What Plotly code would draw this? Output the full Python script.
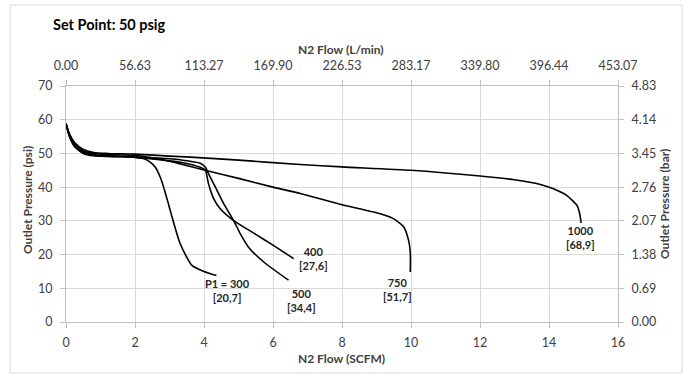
import plotly.graph_objects as go

# ---------------- data (SCFM, psig) ----------------
p300_x = [0, 0.1, 0.25, 0.5, 0.8, 1.2, 1.6, 2.0, 2.3, 2.44, 2.59, 2.73, 2.83, 2.94, 3.05, 3.31, 3.65, 4.0, 4.36]
p300_y = [58.8, 55.0, 52.0, 50.0, 49.3, 49.1, 49.0, 48.8, 48.3, 47.4, 45.9, 43.0, 40.0, 36.1, 32.0, 23.2, 16.8, 15.0, 13.8]

p400_x = [0, 0.1, 0.25, 0.5, 0.8, 1.2, 2.0, 3.0, 3.31, 3.89, 4.04, 4.13, 4.28, 4.47, 4.86, 5.5, 6.0, 6.6]
p400_y = [58.8, 55.3, 52.3, 50.4, 49.6, 49.3, 48.9, 47.8, 47.4, 45.9, 45.0, 41.0, 36.6, 33.6, 30.1, 26.0, 22.8, 18.8]

p500_x = [0, 0.1, 0.25, 0.5, 0.8, 1.2, 2.0, 3.0, 3.31, 3.89, 4.04, 4.13, 4.33, 4.57, 4.86, 5.05, 5.29, 5.73, 6.45]
p500_y = [58.8, 55.1, 52.1, 50.2, 49.5, 49.2, 49.0, 48.4, 48.1, 47.1, 45.9, 44.0, 40.0, 35.1, 30.1, 26.2, 22.2, 17.8, 12.4]

p750_x = [0, 0.1, 0.25, 0.5, 0.8, 1.2, 2.0, 2.5, 3.0, 3.31, 4.0, 5.0, 6.0, 6.79, 8.0, 8.5, 9.11, 9.5, 9.79, 9.93, 9.98, 9.98]
p750_y = [58.8, 55.6, 52.8, 50.8, 50.0, 49.7, 49.4, 48.7, 47.7, 46.9, 45.1, 42.6, 40.0, 38.1, 34.8, 33.6, 32.1, 30.6, 28.2, 24.2, 20.3, 14.8]

p1000_x = [0, 0.1, 0.25, 0.5, 0.8, 1.2, 2.0, 3.0, 3.6, 5.0, 6.79, 8.0, 10.0, 12.0, 13.0, 13.75, 14.13, 14.52, 14.81, 14.89, 14.93]
p1000_y = [58.8, 55.8, 53.2, 51.2, 50.3, 50.0, 49.8, 49.2, 48.9, 48.0, 46.7, 46.0, 45.0, 43.3, 42.2, 40.8, 39.5, 37.5, 34.6, 32.1, 29.4]

series_x = [p300_x, p400_x, p500_x, p750_x, p1000_x]
series_y = [p300_y, p400_y, p500_y, p750_y, p1000_y]
series_labels = ["P1 = 300<br>[20,7]", "400<br>[27,6]", "500<br>[34,4]", "750<br>[51,7]", "1000<br>[68,9]"]
label_x = [4.67, 7.17, 6.84, 9.6, 14.9]
label_y = [9.4, 18.7, 6.4, 9.5, 25.2]

# axis ticks
x_ticks = [0, 2, 4, 6, 8, 10, 12, 14, 16]
y_ticks = [0, 10, 20, 30, 40, 50, 60, 70]
SCFM_TO_LPM = 28.3168
PSI_TO_BAR = 0.0689476
x2_ticks = [v * SCFM_TO_LPM for v in x_ticks]
x2_text = ["%.2f" % v for v in x2_ticks]
y2_ticks = [v * PSI_TO_BAR for v in y_ticks]
y2_text = ["%.2f" % v for v in y2_ticks]

FONT = "Lato, 'Open Sans', sans-serif"
GRID = "#d9d9d9"
TXT = "#404040"

L, R, T, B = 66, 73, 86, 54
PW, PH = 691 - L - R, 376 - T - B

fig = go.Figure()
for xs, ys in zip(series_x, series_y):
    fig.add_trace(go.Scatter(x=xs, y=ys, mode="lines",
                             line=dict(color="black", width=1.6, shape="spline", smoothing=0.6),
                             showlegend=False, hoverinfo="skip"))

# invisible trace to activate secondary axes
fig.add_trace(go.Scatter(x=[v * SCFM_TO_LPM for v in p1000_x],
                         y=[v * PSI_TO_BAR for v in p1000_y],
                         xaxis="x2", yaxis="y2", mode="lines",
                         line=dict(color="rgba(0,0,0,0)"), showlegend=False, hoverinfo="skip"))

for t, lx, ly in zip(series_labels, label_x, label_y):
    fig.add_annotation(x=lx, y=ly, text="<b>" + t + "</b>", showarrow=False,
                       font=dict(family=FONT, size=11, color="#262626"), align="center")

def px_x(p):
    return (p - L) / PW

def px_y(p):
    return (376 - B - p) / PH

title_font = dict(family=FONT, size=12, color=TXT)
fig.add_annotation(xref="paper", yref="paper", x=px_x(341), y=px_y(358), text="<b>N2 Flow (SCFM)</b>",
                   showarrow=False, font=title_font, xanchor="center", yanchor="middle")
fig.add_annotation(xref="paper", yref="paper", x=px_x(341), y=px_y(50), text="<b>N2 Flow (L/min)</b>",
                   showarrow=False, font=title_font, xanchor="center", yanchor="middle")
fig.add_annotation(xref="paper", yref="paper", x=px_x(27), y=px_y(200), text="<b>Outlet Pressure (psi)</b>",
                   showarrow=False, font=title_font, textangle=-90, xanchor="center", yanchor="middle")
fig.add_annotation(xref="paper", yref="paper", x=px_x(664), y=px_y(204), text="<b>Outlet Pressure (bar)</b>",
                   showarrow=False, font=title_font, textangle=-90, xanchor="center", yanchor="middle")

axis_common = dict(showgrid=True, gridcolor=GRID, gridwidth=1, zeroline=False,
                   showline=True, linecolor="#bfbfbf", linewidth=1,
                   ticks="outside", ticklen=5, tickcolor="#bfbfbf", automargin=False,
                   tickfont=dict(family=FONT, size=12.5, color=TXT))

fig.update_layout(
    width=691, height=376,
    margin=dict(l=L, r=R, t=T, b=B),
    paper_bgcolor="white", plot_bgcolor="white",
    title=dict(text="<b>Set Point: 50 psig</b>", x=53 / 691, xanchor="left",
               y=1 - 25 / 376, yanchor="middle",
               font=dict(family=FONT, size=14.5, color="black")),
    xaxis=dict(range=[0, 16], tickvals=x_ticks, ticklabelstandoff=4, **axis_common),
    yaxis=dict(range=[0, 70], tickvals=y_ticks, ticklabelstandoff=5, **axis_common),
    xaxis2=dict(range=[0, 16 * SCFM_TO_LPM], tickvals=x2_ticks, ticktext=x2_text,
                overlaying="x", side="top", anchor="y", ticklabelstandoff=5, **axis_common),
    yaxis2=dict(range=[0, 70 * PSI_TO_BAR], tickvals=y2_ticks, ticktext=y2_text,
                overlaying="y", side="right", anchor="x", ticklabelstandoff=5, **axis_common),
)

# chart border
fig.add_shape(type="rect", xref="paper", yref="paper",
              x0=px_x(10), x1=px_x(682), y0=px_y(373), y1=px_y(5),
              line=dict(color="#d9d9d9", width=1), fillcolor="rgba(0,0,0,0)", layer="below")

fig.write_html("out.html", config={"displayModeBar": False},
               post_script="document.body.style.margin='0px';document.body.style.overflow='hidden';")
